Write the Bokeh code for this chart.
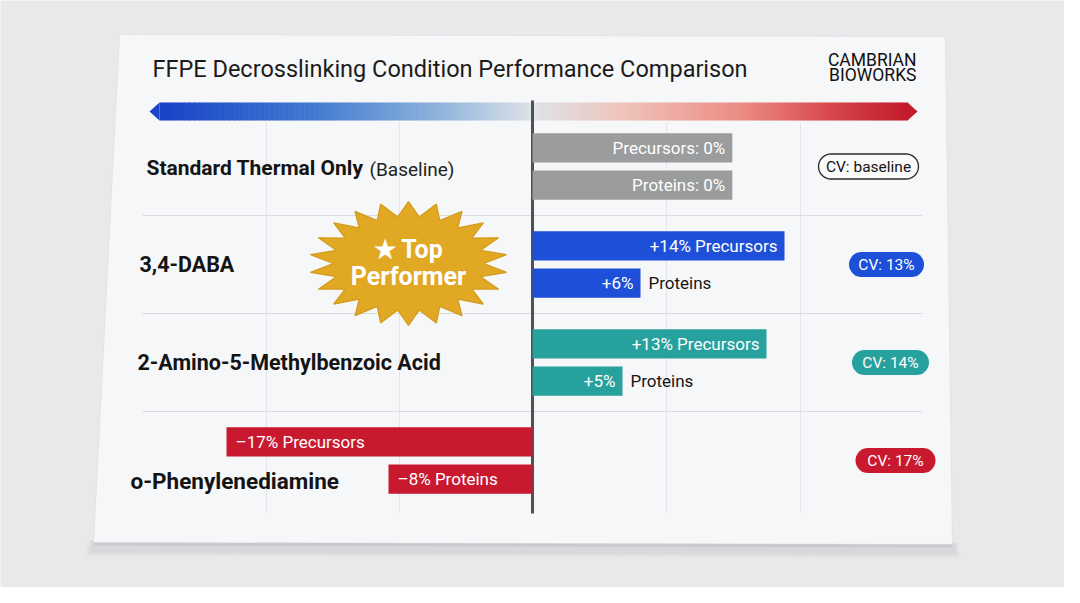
import numpy as np
from bokeh.plotting import figure
from bokeh.models import Range1d
from bokeh.core.properties import value
from bokeh.embed import file_html
from bokeh.resources import INLINE

# ---------------- data ----------------
conditions = ["Standard Thermal Only", "3,4-DABA", "2-Amino-5-Methylbenzoic Acid", "o-Phenylenediamine"]
condition_notes = ["(Baseline)", "", "", ""]
precursor_change = [0, 14, 13, -17]     # % change in precursors vs baseline
protein_change = [0, 6, 5, -8]          # % change in proteins vs baseline
cv_labels = ["CV: baseline", "CV: 13%", "CV: 14%", "CV: 17%"]
top_performer = "3,4-DABA"
title = "FFPE Decrosslinking Condition Performance Comparison"
logo_lines = ["CAMBRIAN", "BIOWORKS"]

# ---------------- style / layout ----------------
colors = ["#9b9c9d", "#1d4fd9", "#27a19d", "#c8192f"]
FONT = value("Roboto")
W, H = 1064, 587
ZERO_PX, PX_PER_PCT = 532, 18.0
ROW0_PX, ROW_PX = 166, 98
BASELINE_BAR_SPAN = 11.1     # visual width of the 0% baseline bars
BAR_H = 0.3
OFF = 0.19

rows = np.arange(len(conditions))

p = figure(width=W, height=H,
           x_range=Range1d(-ZERO_PX / PX_PER_PCT, (W - ZERO_PX) / PX_PER_PCT),
           y_range=Range1d((H - ROW0_PX) / ROW_PX, -ROW0_PX / ROW_PX),
           x_axis_type=None, y_axis_type=None,
           toolbar_location=None, output_backend="svg", min_border=0)
p.extra_x_ranges = {"px": Range1d(0, W)}
p.extra_y_ranges = {"px": Range1d(H, 0)}
p.grid.visible = False
p.outline_line_color = None
p.background_fill_color = "#e8e9eb"
p.border_fill_color = "#e8e9eb"

PX = dict(x_range_name="px", y_range_name="px")

# card shadow + card
for i, a in enumerate([0.05, 0.07, 0.10]):
    d = 6 - 2 * i
    p.patch([93 - d, 952 + d, 954 + d, 91 - d], [540, 542, 552 + d, 550 + d],
            fill_color="#9a9ca0", fill_alpha=a, line_color=None, **PX)
p.patch([119, 945, 952, 93], [34, 36, 544, 542], fill_color="#f6f7f8",
        line_color="#e2e3e5", line_width=1, **PX)
p.patch([93, 952, 952, 93], [542, 544, 547, 545], fill_color="#c9cacd", line_color=None, **PX)

# faint vertical grid
for gx in [266, 399, 666, 800]:
    p.segment(x0=gx, y0=122, x1=gx, y1=512, line_color="#e3e5e8", line_width=1, **PX)

# separators between rows
p.segment(x0=[142] * 3, x1=[922] * 3, y0=rows[:-1] + 0.5, y1=rows[:-1] + 0.5,
          line_color="#d9dbde", line_width=1.2, x_range_name="px")

# gradient scale arrow
def lerp_hex(stops, t):
    pos = [s[0] for s in stops]
    cols = [tuple(int(s[1][k:k + 2], 16) for k in (1, 3, 5)) for s in stops]
    out = []
    for c in range(3):
        out.append(int(round(np.interp(t, pos, [cc[c] for cc in cols]))))
    return "#%02x%02x%02x" % tuple(out)

stops = [(0.0, "#1842c8"), (0.2, "#3f78cf"), (0.38, "#93b6dc"), (0.5, "#dfe3e8"),
         (0.62, "#efc3bb"), (0.78, "#ec8b82"), (0.9, "#d6464b"), (1.0, "#c21a2b")]
ax0, ax1 = 159, 907
N = 150
edges = np.linspace(ax0, ax1, N + 1)
mids = (edges[:-1] + edges[1:]) / 2
gcols = [lerp_hex(stops, (m - ax0) / (ax1 - ax0)) for m in mids]
p.quad(left=edges[:-1], right=edges[1:] + 0.6, top=102, bottom=120,
       fill_color=gcols, line_color=None, **PX)
p.patch([ax0, 149, ax0], [102, 111, 120], fill_color=gcols[0], line_color=None, **PX)
p.patch([ax1, 917, ax1], [102, 111, 120], fill_color=gcols[-1], line_color=None, **PX)

# zero line
p.segment(x0=0, x1=0, y0=100, y1=513, line_color="#505152", line_width=3, y_range_name="px")

# bars
def extents(vals):
    left = [min(0, v) for v in vals]
    right = [max(0, v) if v != 0 else BASELINE_BAR_SPAN for v in vals]
    return left, right

pl, pr = extents(precursor_change)
ql, qr = extents(protein_change)
p.hbar(y=rows - OFF, left=pl, right=pr, height=BAR_H, fill_color=colors, line_color=None)
p.hbar(y=rows + OFF, left=ql, right=qr, height=BAR_H, fill_color=colors, line_color=None)

# bar labels
def fmt(v):
    return ("+%d%%" % v) if v > 0 else ("\u2013%d%%" % abs(v))

LBL = "17px"
for vals, lefts, rights, name, yoff in [(precursor_change, pl, pr, "Precursors", -OFF),
                                        (protein_change, ql, qr, "Proteins", OFF)]:
    for i, v in enumerate(vals):
        y = rows[i] + yoff
        if v == 0:
            p.text(x=[rights[i]], y=[y], text=["%s: 0%%" % name], x_offset=-7,
                   text_align="right", text_baseline="middle", text_color="white",
                   text_font=FONT, text_font_size=LBL)
        elif v < 0:
            p.text(x=[lefts[i]], y=[y], text=["%s %s" % (fmt(v), name)], x_offset=9,
                   text_align="left", text_baseline="middle", text_color="white",
                   text_font=FONT, text_font_size=LBL)
        else:
            inside = "%s %s" % (fmt(v), name) if name == "Precursors" else fmt(v)
            p.text(x=[rights[i]], y=[y], text=[inside], x_offset=-7,
                   text_align="right", text_baseline="middle", text_color="white",
                   text_font=FONT, text_font_size=LBL)
            if name == "Proteins":
                p.text(x=[rights[i]], y=[y], text=[name], x_offset=8,
                       text_align="left", text_baseline="middle", text_color="#151515",
                       text_font=FONT, text_font_size=LBL)

# row labels
label_x = [146, 139, 137, 130]
label_dy = [0.02, 0.0, 0.0, 0.21]
label_size = ["21px", "21.5px", "21.5px", "22.5px"]
for i, name in enumerate(conditions):
    p.text(x=[label_x[i]], y=[rows[i] + label_dy[i]], text=[name], text_font=FONT,
           text_font_size=label_size[i], text_font_style="bold", text_color="#141414",
           text_baseline="middle", x_range_name="px")
p.text(x=[369], y=[rows[0] + 0.03], text=[condition_notes[0]], text_font=FONT,
       text_font_size="19px", text_color="#222222", text_baseline="middle", x_range_name="px")

# CV pills
def stadium(cx, cy, w, h, n=18):
    r = h / 2
    cr, cl = cx + w / 2 - r, cx - w / 2 + r
    t1 = np.linspace(-np.pi / 2, np.pi / 2, n)
    t2 = np.linspace(np.pi / 2, 3 * np.pi / 2, n)
    xs = np.concatenate([cr + r * np.cos(t1), cl + r * np.cos(t2)])
    ys = np.concatenate([cy + r * np.sin(t1), cy + r * np.sin(t2)])
    return xs, ys

pill_cx = [868, 886, 890, 895]
pill_w = [100, 75, 77, 80]
for i, lab in enumerate(cv_labels):
    cy = ROW0_PX + ROW_PX * rows[i]
    xs, ys = stadium(pill_cx[i], cy, pill_w[i], 25)
    if i == 0:
        p.patch(xs, ys, fill_color="#fafafa", line_color="#2a2a2a", line_width=1.3, **PX)
        tc = "#151515"
    else:
        p.patch(xs, ys, fill_color=colors[i], line_color=None, **PX)
        tc = "white"
    p.text(x=[pill_cx[i]], y=[cy], text=[lab], text_align="center", text_baseline="middle",
           text_color=tc, text_font=FONT, text_font_size="15.5px", **PX)

# starburst badge
ti = conditions.index(top_performer)
scx, scy = 408, ROW0_PX + ROW_PX * ti - 1
npts = 22
ang = np.linspace(-np.pi / 2, 3 * np.pi / 2, 2 * npts, endpoint=False)
rad = np.where(np.arange(2 * npts) % 2 == 0, 1.0, 0.76)
p.patch(scx + 99 * rad * np.cos(ang), scy + 62 * rad * np.sin(ang),
        fill_color="#e1a823", line_color="#d39a1c", line_width=1.2, **PX)
p.text(x=[scx, scx], y=[scy - 14, scy + 13], text=["\u2605 Top", "Performer"],
       text_align="center", text_baseline="middle", text_color="white",
       text_font=FONT, text_font_size="25px", text_font_style="bold", **PX)

# title + logo
p.text(x=[152], y=[68], text=[title], text_font=FONT, text_font_size="23.5px",
       text_color="#1b1b1b", text_baseline="middle", **PX)
p.text(x=[916, 916], y=[59, 74], text=logo_lines, text_font=FONT, text_font_size="17.5px",
       text_color="#111111", text_align="right", text_line_height=0.9,
       text_baseline="middle", **PX)

open("out.html", "w").write(file_html(p, INLINE))
